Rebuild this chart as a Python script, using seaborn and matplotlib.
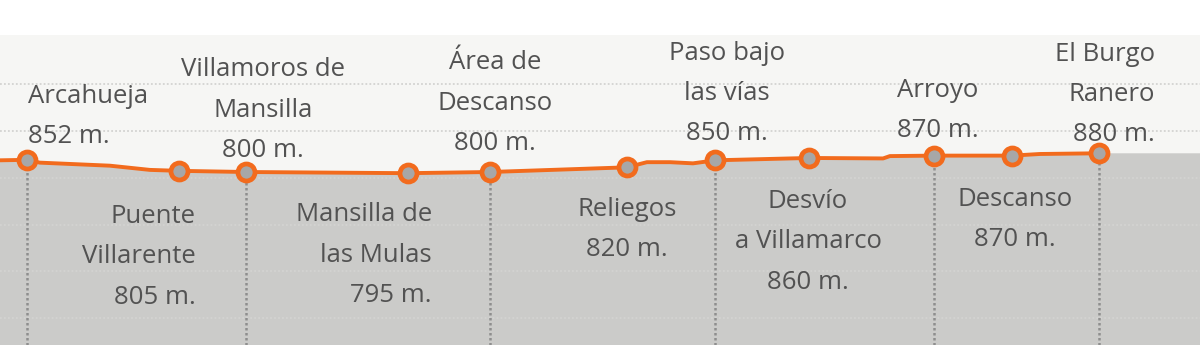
import numpy as np
import pandas as pd
import seaborn as sns
import matplotlib.pyplot as plt

# paradas del perfil (km, altitud en m)
stop_names = ["Arcahueja", "Puente\nVillarente", "Villamoros de\nMansilla",
              "Mansilla de\nlas Mulas", "Área de\nDescanso", "Reliegos",
              "Paso bajo\nlas vías", "Desvío\na Villamarco", "Arroyo",
              "Descanso", "El Burgo\nRanero"]
stop_km = [7.0, 11.25, 13.13, 17.66, 19.96, 23.79, 26.26, 28.89, 32.38, 34.57, 37.0]
stop_elev = [852, 805, 800, 795, 800, 820, 850, 860, 870, 870, 880]
# True -> etiqueta encima de la línea (con guía vertical)
stop_above = [True, False, True, False, True, False, True, False, True, False, True]

# puntos intermedios del perfil
extra_km = [6.24, 7.36, 9.32, 10.44, 24.35, 25.0, 25.64, 30.96, 31.15, 35.35]
extra_elev = [850, 840, 827, 809, 842, 842, 837, 858, 868, 877]

# colocación de las etiquetas: (dx, dy en píxeles, alineación)
label_layout = [(1, 43, "left"), (17, -86, "right"), (17, 62, "center"),
                (24, -82, "right"), (5, 69, "center"), (0, -62, "center"),
                (12, 67, "center"), (-1, -84, "center"), (4, 45, "center"),
                (3, -64, "center"), (56, 59, "right")]

stops = pd.DataFrame({"km": stop_km, "elev": stop_elev})
profile = pd.concat([stops, pd.DataFrame({"km": extra_km, "elev": extra_elev})])
profile = profile.sort_values("km").reset_index(drop=True)

sns.set_theme(style="white")
plt.rcParams["font.family"] = ["Open Sans", "DejaVu Sans"]

orange = "#f26b1d"
fill_gray = "#cbcbc9"
text_gray = "#525252"

fig = plt.figure(figsize=(12, 3.56), dpi=100)
fig.patch.set_facecolor("white")
ax = fig.add_axes([0, 11 / 356, 1, 310 / 356])
ax.set_facecolor("#f6f6f4")

x_min, x_max = 6.244, 39.83
y_min, y_max = 60.7, 1385.5
ax.set_xlim(x_min, x_max)
ax.set_ylim(y_min, y_max)

# relleno gris bajo el perfil, se prolonga hasta el borde derecho
fill_x = np.append(profile["km"].values, x_max)
fill_y = np.append(profile["elev"].values, profile["elev"].values[-1])
ax.fill_between(fill_x, fill_y, y_min, color=fill_gray, lw=0, zorder=1)

# rejilla punteada
for yv in range(175, 1200, 200):
    ax.axhline(yv, color="#d3d3d1", lw=1.3, ls=(0, (1, 1.2)), zorder=2)

# guías verticales
above = stops[stop_above]
ax.vlines(above["km"], y_min, above["elev"], colors="#8e8e8e", lw=1.8,
          linestyles=(0, (1, 1)), zorder=3)

sns.lineplot(data=profile, x="km", y="elev", color=orange, lw=2.8,
             sort=False, ax=ax, zorder=4)
sns.scatterplot(data=stops, x="km", y="elev", s=150, color="#a7a7a7",
                edgecolor=orange, linewidth=3.4, ax=ax, zorder=5)

for name, km, el, (dx, dy, ha) in zip(stop_names, stop_km, stop_elev, label_layout):
    ax.annotate(f"{name}\n{el} m.", (km, el), xytext=(dx, dy),
                textcoords="offset pixels", ha=ha, va="center",
                fontsize=18.5, color=text_gray, linespacing=1.8, zorder=6)

ax.set_xlabel("")
ax.set_ylabel("")
ax.set_xticks([])
ax.set_yticks([])
for s in ax.spines.values():
    s.set_visible(False)

fig.savefig("out.png", dpi=100, facecolor="white")
